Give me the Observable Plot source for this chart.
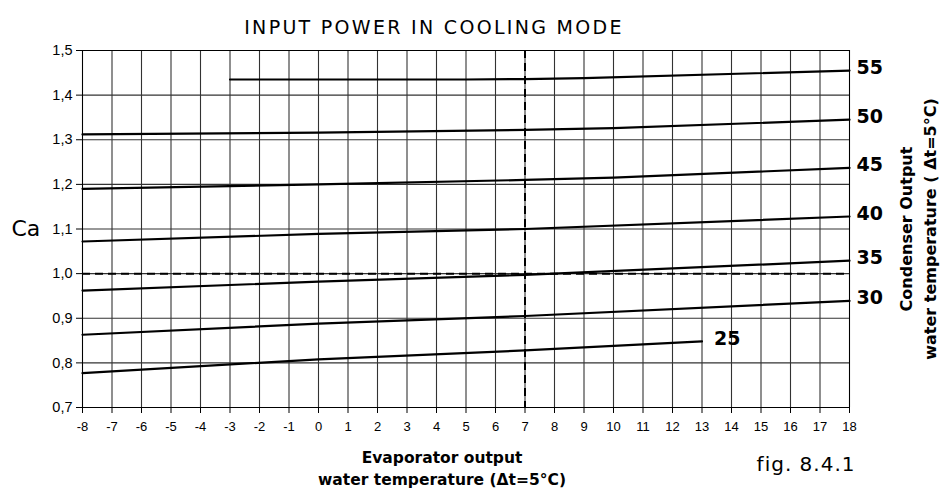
<!DOCTYPE html>
<html>
<head>
<meta charset="utf-8">
<script src="https://cdn.jsdelivr.net/npm/d3@7"></script>
<script src="https://cdn.jsdelivr.net/npm/@observablehq/plot@0.6"></script>
<style>
  html, body { margin: 0; padding: 0; background: #fff; }
  #chart { width: 950px; height: 495px; }
</style>
</head>
<body>
<div id="chart"></div>
<script>
// Evaporator output water temperature (x) and Ca values per condenser temperature
const xTicks = d3.range(-8, 19);
const yTicks = [0.7, 0.8, 0.9, 1.0, 1.1, 1.2, 1.3, 1.4, 1.5];

const s55 = { label: "55", x: [-3, 0, 5, 7, 9, 18], y: [1.435, 1.435, 1.435, 1.436, 1.438, 1.455] };
const s50 = { label: "50", x: [-8, 0, 7, 10, 18], y: [1.312, 1.316, 1.322, 1.326, 1.345] };
const s45 = { label: "45", x: [-8, 0, 7, 10, 18], y: [1.190, 1.200, 1.210, 1.215, 1.237] };
const s40 = { label: "40", x: [-8, 0, 7, 18], y: [1.072, 1.089, 1.100, 1.128] };
const s35 = { label: "35", x: [-8, 0, 7, 18], y: [0.962, 0.982, 0.997, 1.029] };
const s30 = { label: "30", x: [-8, 0, 7, 18], y: [0.863, 0.888, 0.905, 0.939] };
const s25 = { label: "25", x: [-8, 0, 7, 13], y: [0.777, 0.808, 0.828, 0.848] };

const series = [s55, s50, s45, s40, s35, s30, s25];
const refX = [7];
const refY = [1.0];

const titleText = "INPUT POWER IN COOLING MODE";
const yTitle = "Ca";
const xTitle1 = "Evaporator output";
const xTitle2 = "water temperature (Δt=5°C)";
const rTitle1 = "Condenser Output";
const rTitle2 = "water temperature ( Δt=5°C)";
const figText = "fig. 8.4.1";

const rows = series.flatMap(s => s.x.map((x, i) => ({ s: s.label, x, y: s.y[i] })));
const ends = series.map(s => ({ s: s.label, x: s.x[s.x.length - 1], y: s.y[s.y.length - 1] }));
const endsRight = ends.filter(d => d.s !== "25");
const end25 = ends.filter(d => d.s === "25");

const fmt = d => d.toFixed(1).replace(".", ",");
const sans = "Liberation Sans, Arial, sans-serif";
const geo = "DejaVu Sans, sans-serif";

const chart = Plot.plot({
  width: 950,
  height: 495,
  marginLeft: 82,
  marginRight: 101,
  marginTop: 50,
  marginBottom: 88,
  style: { fontFamily: sans, fontSize: "13px", color: "#000", background: "#fff" },
  x: { domain: [-8, 18] },
  y: { domain: [0.7, 1.5] },
  marks: [
    Plot.ruleX(xTicks, { stroke: "#333", strokeWidth: 1.1 }),
    Plot.ruleY(yTicks, { stroke: "#333", strokeWidth: 1.1 }),
    Plot.frame({ stroke: "#000", strokeWidth: 1 }),
    Plot.axisX({ ticks: xTicks, tickSize: 6, tickFormat: () => "", label: null }),
    Plot.axisY({ ticks: yTicks, tickSize: 6, tickFormat: () => "", label: null }),
    Plot.text(xTicks, { x: d => d, frameAnchor: "bottom", dy: 19, text: d => String(d), textAnchor: "middle", lineAnchor: "middle", fontSize: 13, fontFamily: sans }),
    Plot.text(yTicks, { y: d => d, frameAnchor: "left", dx: -10, text: fmt, textAnchor: "end", lineAnchor: "middle", fontSize: 14.5, fontFamily: sans }),
    Plot.ruleX(refX, { stroke: "#000", strokeWidth: 2, strokeDasharray: "8,5" }),
    Plot.ruleY(refY, { stroke: "#000", strokeWidth: 2, strokeDasharray: "8,5" }),
    Plot.line(rows, { x: "x", y: "y", z: "s", stroke: "#000", strokeWidth: 2.2 }),
    Plot.text(endsRight, { x: "x", y: "y", text: "s", dx: 7, dy: -3, textAnchor: "start", fontSize: 19, fontWeight: "bold", fontFamily: geo }),
    Plot.text(end25, { x: "x", y: "y", text: "s", dx: 12, dy: -3, textAnchor: "start", fontSize: 19, fontWeight: "bold", fontFamily: geo }),
    Plot.text([titleText], { frameAnchor: "top", textAnchor: "middle", dx: -32, dy: -30, fontSize: 19, fontFamily: geo }),
    Plot.text([yTitle], { frameAnchor: "left", textAnchor: "start", dx: -71, dy: 0, fontSize: 22, fontFamily: geo }),
    Plot.text([xTitle1], { frameAnchor: "bottom", textAnchor: "middle", dx: -24, dy: 55, fontSize: 15.5, fontWeight: "bold", fontFamily: geo }),
    Plot.text([xTitle2], { frameAnchor: "bottom", textAnchor: "middle", dx: -24, dy: 77, fontSize: 15.5, fontWeight: "bold", fontFamily: geo }),
    Plot.text([figText], { frameAnchor: "bottom-right", textAnchor: "end", dx: 6, dy: 63, fontSize: 20, fontFamily: geo }),
    Plot.text([rTitle1], { frameAnchor: "right", textAnchor: "middle", dx: 57, dy: 0, rotate: -90, fontSize: 16, fontWeight: "bold", fontFamily: geo }),
    Plot.text([rTitle2], { frameAnchor: "right", textAnchor: "middle", dx: 81, dy: 0, rotate: -90, fontSize: 16, fontWeight: "bold", fontFamily: geo })
  ]
});
const svgSel = d3.select(chart);
svgSel.selectAll("text")
  .filter(function () { return this.textContent === titleText; })
  .attr("letter-spacing", "2.3px");
svgSel.selectAll("text")
  .filter(function () { return this.textContent === figText; })
  .attr("letter-spacing", "1px");
document.getElementById("chart").appendChild(chart);
</script>
</body>
</html>
